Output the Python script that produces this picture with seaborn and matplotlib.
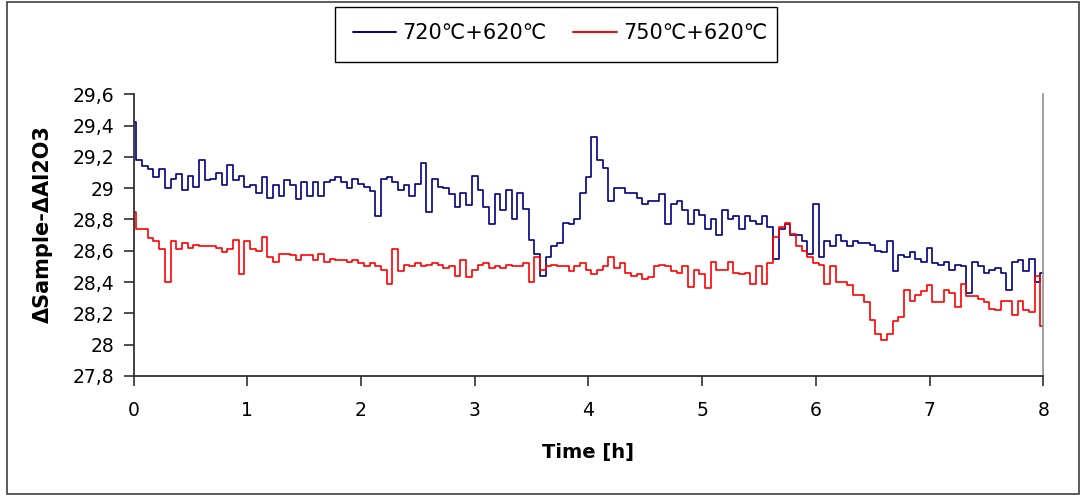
import numpy as np
import pandas as pd
import matplotlib
matplotlib.use("Agg")
import matplotlib.pyplot as plt
import seaborn as sns
from matplotlib.lines import Line2D
from matplotlib.patches import Rectangle

# time axis, one reading every 0.05 h
time_h = np.round(np.linspace(0, 8, 161), 2)

series_labels = ["720℃+620℃", "750℃+620℃"]

s720 = [
    29.42, 29.18, 29.14, 29.12, 29.07, 29.12, 29.00, 29.06, 29.09, 28.99,
    29.08, 29.01, 29.18, 29.05, 29.06, 29.10, 29.02, 29.15, 29.05, 29.08,
    29.01, 29.02, 28.97, 29.07, 28.94, 29.02, 28.95, 29.05, 29.02, 28.93,
    29.04, 28.95, 29.04, 28.95, 29.04, 29.05, 29.07, 29.04, 29.00, 29.06,
    29.03, 29.01, 28.98, 28.82, 29.06, 29.07, 29.04, 28.99, 29.02, 28.95,
    29.03, 29.16, 28.85, 29.06, 29.01, 29.00, 28.96, 28.88, 28.97, 28.89,
    29.08, 28.99, 28.88, 28.77, 28.96, 28.86, 28.99, 28.80, 28.97, 28.87,
    28.67, 28.58, 28.44, 28.56, 28.63, 28.65, 28.78, 28.77, 28.80, 28.97,
    29.07, 29.33, 29.18, 29.13, 28.92, 29.00, 29.00, 28.97, 28.97, 28.94,
    28.90, 28.92, 28.92, 28.96, 28.77, 28.90, 28.92, 28.86, 28.77, 28.86,
    28.83, 28.74, 28.80, 28.70, 28.86, 28.80, 28.82, 28.74, 28.82, 28.79,
    28.77, 28.82, 28.75, 28.55, 28.74, 28.77, 28.70, 28.70, 28.66, 28.58,
    28.90, 28.56, 28.66, 28.63, 28.70, 28.66, 28.63, 28.66, 28.65, 28.65,
    28.64, 28.60, 28.59, 28.66, 28.47, 28.57, 28.56, 28.59, 28.55, 28.53,
    28.62, 28.52, 28.51, 28.53, 28.48, 28.51, 28.50, 28.33, 28.53, 28.50,
    28.46, 28.48, 28.49, 28.46, 28.35, 28.53, 28.54, 28.47, 28.55, 28.40,
    28.46,
]

s750 = [
    28.85, 28.74, 28.74, 28.68, 28.66, 28.61, 28.40, 28.66, 28.61, 28.65,
    28.62, 28.64, 28.63, 28.63, 28.63, 28.62, 28.59, 28.61, 28.67, 28.45,
    28.66, 28.61, 28.60, 28.69, 28.56, 28.53, 28.58, 28.58, 28.57, 28.54,
    28.57, 28.57, 28.54, 28.58, 28.53, 28.55, 28.54, 28.54, 28.53, 28.54,
    28.52, 28.50, 28.52, 28.50, 28.48, 28.39, 28.61, 28.47, 28.51, 28.50,
    28.52, 28.50, 28.51, 28.52, 28.51, 28.49, 28.50, 28.44, 28.54, 28.43,
    28.48, 28.51, 28.52, 28.49, 28.50, 28.49, 28.51, 28.50, 28.50, 28.52,
    28.40, 28.56, 28.48, 28.50, 28.51, 28.50, 28.50, 28.47, 28.50, 28.52,
    28.48, 28.45, 28.48, 28.50, 28.56, 28.49, 28.52, 28.46, 28.44, 28.45,
    28.42, 28.43, 28.50, 28.51, 28.50, 28.47, 28.46, 28.50, 28.37, 28.48,
    28.45, 28.36, 28.53, 28.48, 28.48, 28.53, 28.46, 28.45, 28.46, 28.39,
    28.50, 28.39, 28.52, 28.69, 28.75, 28.78, 28.71, 28.63, 28.60, 28.56,
    28.52, 28.51, 28.39, 28.50, 28.40, 28.40, 28.38, 28.32, 28.32, 28.27,
    28.16, 28.07, 28.03, 28.07, 28.15, 28.18, 28.35, 28.28, 28.32, 28.34,
    28.38, 28.27, 28.27, 28.35, 28.33, 28.24, 28.39, 28.31, 28.31, 28.29,
    28.27, 28.23, 28.22, 28.28, 28.28, 28.19, 28.28, 28.22, 28.21, 28.44,
    28.12,
]

yticks = [27.8, 28.0, 28.2, 28.4, 28.6, 28.8, 29.0, 29.2, 29.4, 29.6]
ytick_labels = ["27,8", "28", "28,2", "28,4", "28,6", "28,8", "29", "29,2", "29,4", "29,6"]
xticks = [0, 1, 2, 3, 4, 5, 6, 7, 8]

colors = ["#000080", "#FF0000"]

df = pd.DataFrame({
    "time": np.concatenate([time_h, time_h]),
    "value": s720 + s750,
    "series": [series_labels[0]] * len(time_h) + [series_labels[1]] * len(time_h),
})

sns.set_style("ticks")
plt.rcParams["font.family"] = ["DejaVu Sans"]
plt.rcParams["text.color"] = "black"
plt.rcParams["axes.labelcolor"] = "black"

W, H = 1086, 495
fig = plt.figure(figsize=(W / 100, H / 100), dpi=100)
ax = fig.add_axes([133.6 / W, 1 - 376 / H, 909.6 / W, 281.7 / H])

sns.lineplot(data=df, x="time", y="value", hue="series", palette=colors,
             ax=ax, drawstyle="steps-mid", linewidth=1.2, errorbar=None,
             legend=False)

ax.set_xlim(0, 8)
ax.set_ylim(27.8, 29.6)
ax.set_xticks(xticks)
ax.set_yticks(yticks)
ax.set_yticklabels(ytick_labels)
ax.tick_params(axis="both", direction="out", length=7, width=1.2,
               color="#303030", labelcolor="black", labelsize=13.5)
ax.tick_params(axis="x", pad=11)
ax.tick_params(axis="y", pad=7)

ax.spines["top"].set_visible(False)
ax.spines["right"].set_color("#909090")
ax.spines["right"].set_linewidth(1.2)
for side in ["left", "bottom"]:
    ax.spines[side].set_color("#303030")
    ax.spines[side].set_linewidth(1.3)

ax.set_xlabel("Time [h]", fontsize=14, fontweight="bold")
ax.set_ylabel("ΔSample-ΔAl2O3", fontsize=15, fontweight="bold")
ax.xaxis.set_label_coords(0.5, -0.238)
ax.yaxis.set_label_coords(-0.0886, 0.54)

# legend box at the top
handles = [Line2D([], [], color=c, linewidth=1.4) for c in colors]
fig.legend(handles, series_labels, loc="center",
           bbox_to_anchor=(560 / W, 1 - 33 / H), ncol=2, frameon=False,
           fontsize=15, handlelength=2.1, handletextpad=0.3,
           columnspacing=1.25, labelcolor="black")
fig.patches.append(Rectangle((335 / W, 1 - 62 / H), 442 / W, 55 / H,
                             transform=fig.transFigure, fill=False,
                             edgecolor="black", linewidth=1.0))

# outer chart border
fig.patches.append(Rectangle((7 / W, 1 / H), 1072 / W, 492 / H,
                             transform=fig.transFigure, fill=False,
                             edgecolor="#404040", linewidth=1.2))

plt.savefig("out.png", dpi=100)
